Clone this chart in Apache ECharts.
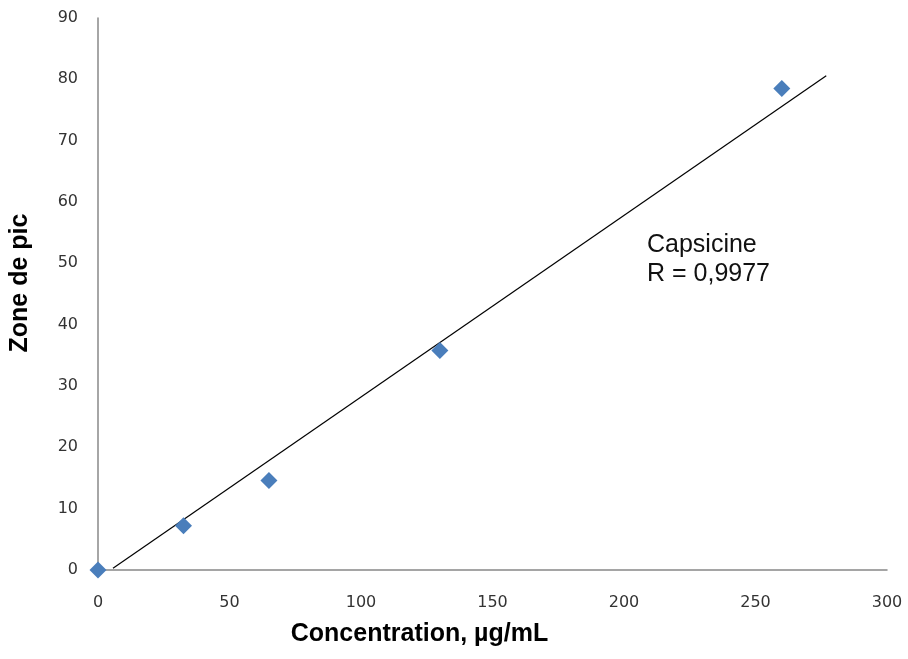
<!DOCTYPE html>
<html>
<head>
<meta charset="utf-8">
<script src="https://cdn.jsdelivr.net/npm/echarts@6/dist/echarts.min.js"></script>
<style>
html,body{margin:0;padding:0;background:#fff;}
#chart{width:908px;height:659px;}
</style>
</head>
<body>
<div id="chart"></div>
<script>
// Data
const concentration = [0, 32.5, 65, 130, 260];
const peakArea = [0, 7.2, 14.6, 35.8, 78.5];
const trendX = [5.7, 276.9];
const trendY = [0.3, 80.6];
const xTicks = [0, 50, 100, 150, 200, 250, 300];
const yTicks = [0, 10, 20, 30, 40, 50, 60, 70, 80, 90];
const annotation = ['Capsicine', 'R = 0,9977'];
const xTitle = 'Concentration, µg/mL';
const yTitle = 'Zone de pic';

const chart = echarts.init(document.getElementById('chart'));
const tickFont = {fontFamily: 'DejaVu Sans', fontSize: 16, color: '#333'};
chart.setOption({
  animation: false,
  grid: {left: 97, right: 21, top: 18, bottom: 89},
  xAxis: {
    type: 'value', min: xTicks[0], max: xTicks[xTicks.length - 1], interval: 50,
    axisLine: {lineStyle: {color: '#888', width: 1.5}},
    axisTick: {show: false},
    splitLine: {show: false},
    axisLabel: Object.assign({margin: 25}, tickFont),
    name: xTitle, nameLocation: 'middle', nameGap: 52,
    nameTextStyle: {fontFamily: 'Liberation Sans', fontWeight: 'bold', fontSize: 25, color: '#000', padding: [0, 146, 0, 0]}
  },
  yAxis: {
    type: 'value', min: yTicks[0], max: yTicks[yTicks.length - 1], interval: 10,
    axisLine: {lineStyle: {color: '#888', width: 1.5}},
    axisTick: {show: false},
    splitLine: {show: false},
    axisLabel: Object.assign({margin: 20}, tickFont),
    name: yTitle, nameLocation: 'middle', nameGap: 65,
    nameTextStyle: {fontFamily: 'Liberation Sans', fontWeight: 'bold', fontSize: 25, color: '#000', padding: [0, 0, 0, 22]}
  },
  series: [
    {
      type: 'line',
      data: trendX.map((x, i) => [x, trendY[i]]),
      symbol: 'none',
      lineStyle: {color: '#000', width: 1.2},
      z: 2
    },
    {
      type: 'scatter',
      data: concentration.map((x, i) => [x, peakArea[i]]),
      symbol: 'diamond',
      symbolSize: [17, 17],
      itemStyle: {color: '#4A7EBB', opacity: 1},
      z: 3
    }
  ],
  graphic: [{
    type: 'text', left: 647, top: 231,
    style: {text: annotation.join('\n'), font: '25px "Liberation Sans"', fill: '#111', lineHeight: 29}
  }]
});
</script>
</body>
</html>
